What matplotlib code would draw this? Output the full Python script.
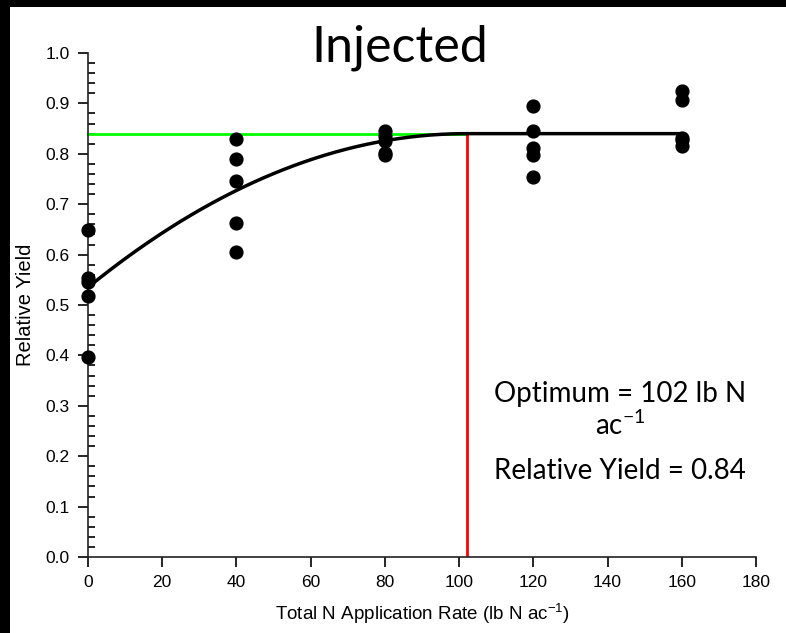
import matplotlib
matplotlib.use("Agg")
import matplotlib.pyplot as plt
import numpy as np
from matplotlib.patches import Rectangle
from matplotlib.ticker import MultipleLocator, FormatStrFormatter

# Observed relative yields by total N rate (lb N/ac)
n_rate = [0, 0, 0, 0, 0,
          40, 40, 40, 40, 40,
          80, 80, 80, 80, 80,
          120, 120, 120, 120, 120,
          160, 160, 160, 160, 160]
rel_yield = [0.648, 0.553, 0.545, 0.518, 0.397,
             0.829, 0.789, 0.746, 0.662, 0.605,
             0.845, 0.835, 0.826, 0.801, 0.797,
             0.895, 0.845, 0.811, 0.798, 0.754,
             0.925, 0.906, 0.832, 0.828, 0.815]

# Quadratic-plateau fit
intercept = 0.535
opt_n = 102
plateau = 0.84
x_max = 160

x_ticks = [0, 20, 40, 60, 80, 100, 120, 140, 160, 180]
y_ticks = [0.0, 0.1, 0.2, 0.3, 0.4, 0.5, 0.6, 0.7, 0.8, 0.9, 1.0]

W, H = 786, 633
fig = plt.figure(figsize=(W / 100, H / 100), dpi=100)
fig.patch.set_facecolor("white")
fig.patches.append(Rectangle((0, 0), 10 / W, 1, transform=fig.transFigure,
                             facecolor="black", edgecolor="none", zorder=0))
fig.patches.append(Rectangle((0, 1 - 7 / H), 1, 7 / H, transform=fig.transFigure,
                             facecolor="black", edgecolor="none", zorder=0))

ax = fig.add_axes([88 / W, (H - 557) / H, (756 - 88) / W, (557 - 53) / H])
ax.set_xlim(0, 180)
ax.set_ylim(0, 1.0)

# fitted curve
c2 = -(plateau - intercept) / opt_n ** 2
c1 = -2 * c2 * opt_n
xs = np.linspace(0, x_max, 400)
ys = np.where(xs < opt_n, intercept + c1 * xs + c2 * xs ** 2, plateau)

ax.plot([0, opt_n], [plateau, plateau], color="#00ff00", lw=2, zorder=2, clip_on=False)
ax.plot([opt_n, opt_n], [0, plateau], color="#ff0000", lw=2, zorder=2)
ax.plot(xs, ys, color="black", lw=2.5, zorder=3, clip_on=False)
ax.scatter(n_rate, rel_yield, s=85, color="black", zorder=4, clip_on=False)

for s in ["top", "right"]:
    ax.spines[s].set_visible(False)
for s in ["left", "bottom"]:
    ax.spines[s].set_linewidth(1.2)
    ax.spines[s].set_color("#222222")

ax.set_xticks(x_ticks)
ax.set_yticks(y_ticks)
ax.yaxis.set_major_formatter(FormatStrFormatter("%.1f"))
ax.yaxis.set_minor_locator(MultipleLocator(0.02))
ax.tick_params(axis="y", which="major", direction="out", length=7, width=1.2)
ax.tick_params(axis="y", which="minor", direction="in", length=5, width=1.2)
ax.tick_params(axis="x", which="major", direction="out", length=7, width=1.2)
ax.tick_params(labelsize=12.5, pad=6)
for lab in ax.get_xticklabels() + ax.get_yticklabels():
    lab.set_fontfamily("Liberation Sans")

ax.set_xlabel("Total N Application Rate (lb N ac$^{\\mathregular{-1}}$)", fontsize=13.5,
              family="Liberation Sans", labelpad=8)
ax.set_ylabel("Relative Yield", fontsize=14.5, family="Liberation Sans", labelpad=8)

fig.text(400 / W, 1 - 48 / H, "Injected", fontsize=36, family="Lato",
         ha="center", va="center")

ax.text(620 / W, 1 - 394 / H, "Optimum = %d lb N" % opt_n, transform=fig.transFigure,
        fontsize=20, family="Lato", ha="center", va="center")
ax.text(620 / W, 1 - 425 / H, "ac$^{\\mathregular{-1}}$", transform=fig.transFigure,
        fontsize=20, family="Lato", ha="center", va="center")
ax.text(620 / W, 1 - 471 / H, "Relative Yield = %.2f" % plateau, transform=fig.transFigure,
        fontsize=20, family="Lato", ha="center", va="center")

fig.savefig("out.png", dpi=100, facecolor="white")
